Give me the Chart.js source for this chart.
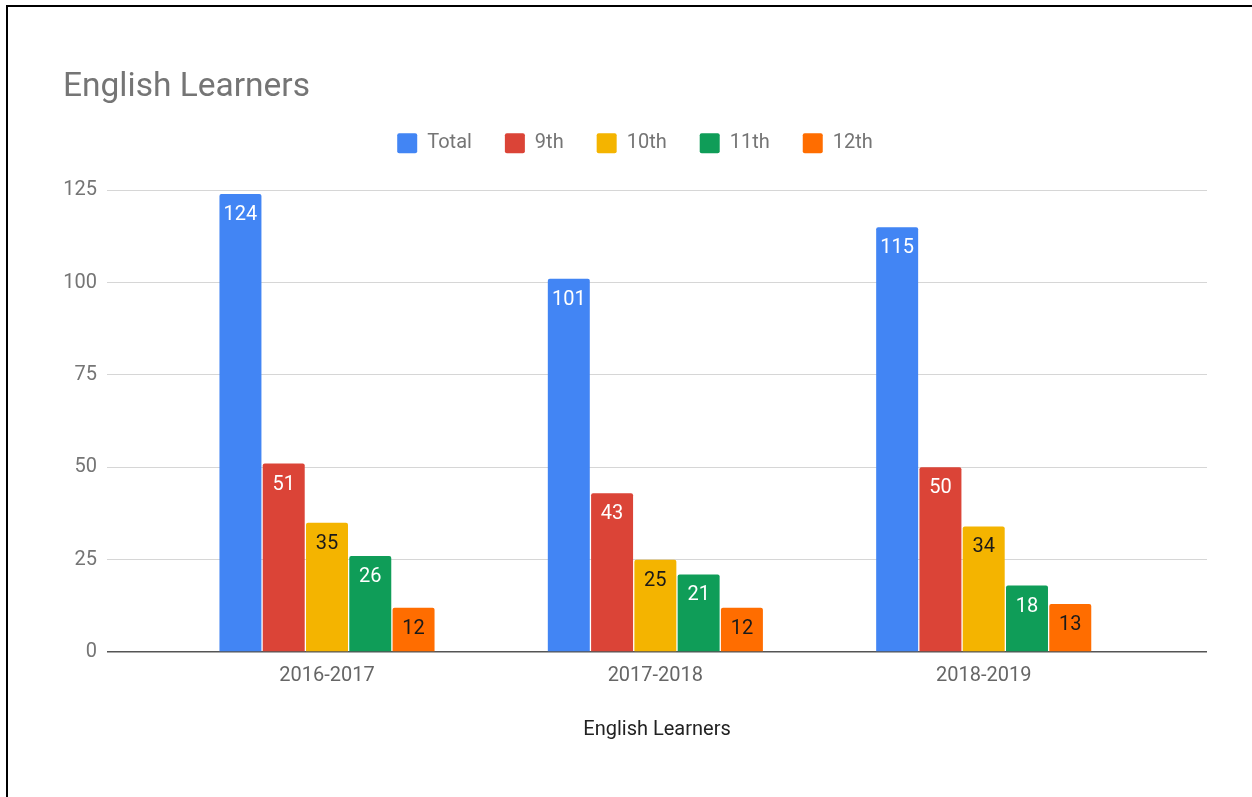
<!DOCTYPE html>
<html>
<head>
<meta charset="utf-8">
<script src="https://cdn.jsdelivr.net/npm/chart.js@4"></script>
<style>
  html, body { margin: 0; padding: 0; background: #fff; overflow: hidden; }
  #wrap { position: relative; width: 1252px; height: 797px; }
  #frame {
    position: absolute; left: 6px; top: 5px; width: 1400px; height: 1000px;
    border-top: 2px solid #000; border-left: 2px solid #000; pointer-events: none;
  }
</style>
</head>
<body>
<div id="wrap">
  <canvas id="chart" width="1252" height="797"></canvas>
  <div id="frame"></div>
</div>
<script>
const years = ['2016-2017', '2017-2018', '2018-2019'];
const seriesNames = ['Total', '9th', '10th', '11th', '12th'];
const totalValues = [124, 101, 115];
const ninthValues = [51, 43, 50];
const tenthValues = [35, 25, 34];
const eleventhValues = [26, 21, 18];
const twelfthValues = [12, 12, 13];
const yTicks = [0, 25, 50, 75, 100, 125];

const seriesValues = [totalValues, ninthValues, tenthValues, eleventhValues, twelfthValues];
const barColors = ['#4285F4', '#DB4437', '#F4B400', '#0F9D58', '#FF6D00'];
const labelColors = ['#ffffff', '#ffffff', '#1a1a1a', '#ffffff', '#1a1a1a'];

const FONT = 'Roboto';

// value labels inside the top of each bar
const barLabels = {
  id: 'barLabels',
  afterDatasetsDraw(chart) {
    const ctx = chart.ctx;
    ctx.save();
    ctx.font = '20px ' + FONT;
    ctx.textAlign = 'center';
    ctx.textBaseline = 'middle';
    chart.data.datasets.forEach((ds, i) => {
      const meta = chart.getDatasetMeta(i);
      ctx.fillStyle = labelColors[i];
      meta.data.forEach((bar, j) => {
        ctx.fillText(String(seriesValues[i][j]), bar.x, bar.y + 21);
      });
    });
    ctx.restore();
  }
};

// extra room under the legend
const legendGap = {
  id: 'legendGap',
  beforeInit(chart) {
    const fit = chart.legend.fit;
    chart.legend.fit = function() {
      fit.bind(chart.legend)();
      this.height += 27;
    };
  }
};

const ctx = document.getElementById('chart').getContext('2d');
new Chart(ctx, {
  type: 'bar',
  data: {
    datasets: seriesNames.map((name, i) => ({
      label: name,
      data: seriesValues[i].map((v, j) => ({ x: j, y: v })),
      backgroundColor: barColors[i],
      borderWidth: 0,
      borderRadius: { topLeft: 2, topRight: 2 },
      borderSkipped: 'bottom',
      categoryPercentage: 0.659,
      barPercentage: 0.97
    }))
  },
  options: {
    responsive: false,
    animation: false,
    layout: { padding: { left: 63, right: 45, top: 64, bottom: 55 } },
    plugins: {
      title: {
        display: true,
        text: 'English Learners',
        align: 'start',
        color: '#757575',
        font: { family: FONT, size: 33.5, weight: 'normal' },
        padding: { top: 4, bottom: -8 }
      },
      legend: {
        position: 'top',
        labels: {
          boxWidth: 20,
          boxHeight: 20,
          useBorderRadius: true,
          borderRadius: 2,
          padding: 33,
          color: '#757575',
          font: { family: FONT, size: 20 }
        }
      },
      tooltip: { enabled: false }
    },
    scales: {
      x: {
        type: 'linear',
        offset: false,
        min: -0.67,
        max: 2.68,
        afterBuildTicks(scale) {
          scale.ticks = years.map((_, i) => ({ value: i }));
        },
        grid: { display: false, offset: false },
        border: { display: false },
        ticks: {
          color: '#666666',
          font: { family: FONT, size: 20 },
          padding: 4,
          callback: v => years[v]
        },
        title: {
          display: true,
          text: 'English Learners',
          color: '#222222',
          font: { family: FONT, size: 20 },
          padding: { top: 26, bottom: 0 }
        }
      },
      y: {
        min: 0,
        max: 125,
        afterBuildTicks(scale) {
          scale.ticks = yTicks.map(v => ({ value: v }));
        },
        afterFit(scale) { scale.width = 44; },
        border: { display: false },
        grid: {
          drawTicks: false,
          color: c => c.tick && c.tick.value === 0 ? '#555555' : '#d6d6d6',
          lineWidth: c => c.tick && c.tick.value === 0 ? 1.5 : 1
        },
        ticks: { color: '#757575', font: { family: FONT, size: 20 }, padding: 10 }
      }
    }
  },
  plugins: [barLabels, legendGap]
});
</script>
</body>
</html>
